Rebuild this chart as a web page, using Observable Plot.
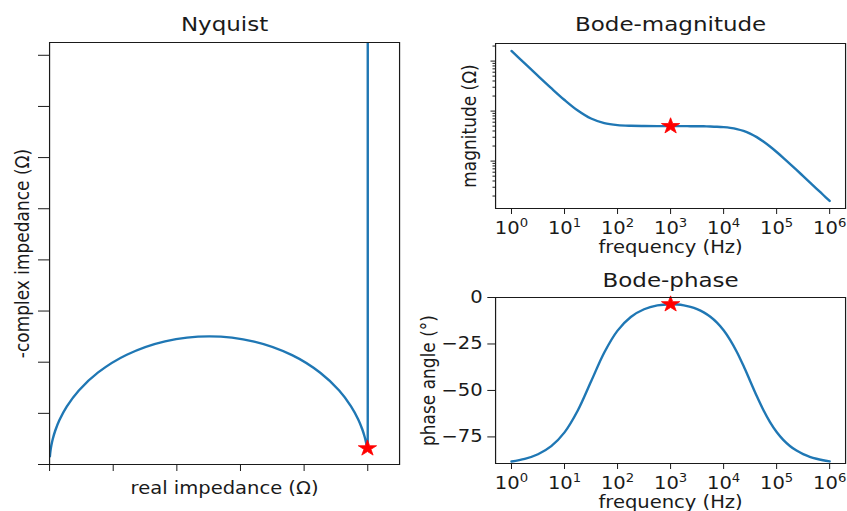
<!DOCTYPE html>
<html>
<head>
<meta charset="utf-8">
<script src="https://cdn.jsdelivr.net/npm/d3@7"></script>
<script src="https://cdn.jsdelivr.net/npm/@observablehq/plot@0.6"></script>
<style>
  html, body { margin: 0; padding: 0; background: #fff; }
  #figure { position: relative; width: 847px; height: 511px; overflow: hidden; background: #fff; }
  #figure svg { position: absolute; }
  #figure svg path, #figure svg line, #figure svg rect { vector-effect: non-scaling-stroke; }
</style>
</head>
<body>
<div id="figure"></div>
<script>
// Impedance spectrum from 1 Hz to 1 MHz (denser sampling above 1 kHz, where the arc is)
const frequency = [1, 1.778, 3.162, 5.623, 10, 17.78, 31.62, 56.23, 100, 177.8, 316.2, 562.3,
  1000, 1334, 1778, 2371, 3162, 4217, 5623, 7499, 10000, 13335, 17783, 23714, 31623, 42170,
  56234, 74989, 100000, 133352, 177828, 237137, 316228, 421697, 562341, 749894, 1000000];
const magnitude = [1592.3, 896.4, 505.8, 287.4, 166.8, 102.6, 71.0, 57.5, 52.52, 50.84, 50.30, 50.12,
  50.05, 50.02, 49.98, 49.92, 49.81, 49.62, 49.29, 48.72, 47.75, 46.16, 43.69, 40.14, 35.51, 30.15,
  24.65, 19.56, 15.18, 11.62, 8.82, 6.66, 5.01, 3.767, 2.83, 2.123, 1.593];
const phase = [-88.20, -86.80, -84.33, -79.98, -72.56, -60.82, -45.22, -29.59, -17.82, -10.46, -6.31, -4.25,
  -3.62, -3.77, -4.22, -5.03, -6.25, -7.98, -10.34, -13.50, -17.62, -22.88, -29.29, -36.76, -44.87, -53.00,
  -60.52, -67.03, -72.36, -76.59, -79.86, -82.36, -84.26, -85.69, -86.76, -87.57, -88.18];
const realZ = [50.0, 50.0, 50.0, 50.0, 50.0, 50.0, 50.0, 50.0, 50.0, 49.998, 49.995, 49.984,
  49.951, 49.912, 49.844, 49.724, 49.511, 49.138, 48.487, 47.371, 45.508, 42.535, 38.107, 32.154, 25.164, 18.148,
  12.133, 7.634, 4.600, 2.695, 1.552, 0.885, 0.502, 0.283, 0.160, 0.090, 0.051];
const negImagZ = [1591.6, 895.0, 503.3, 283.0, 159.2, 89.53, 50.38, 28.39, 16.07, 9.229, 5.530, 3.713,
  3.161, 3.285, 3.680, 4.376, 5.422, 6.887, 8.849, 11.372, 14.456, 17.939, 21.379, 24.022, 25.050, 24.080,
  21.462, 18.005, 14.467, 11.304, 8.681, 6.599, 4.987, 3.757, 2.824, 2.121, 1.592];
const markerFrequency = 1000;

// Axis ticks and tick labels
const freqTicks = [1, 10, 100, 1000, 10000, 100000, 1000000];
const freqTickBase = "10";
const freqTickExponents = ["0", "1", "2", "3", "4", "5", "6"];
const phaseTicks = [0, -25, -50, -75];
const phaseTickLabels = ["0", "−25", "−50", "−75"];
const magMajorTicks = [10, 100, 1000];
const magMinorTicks = [2, 3, 4, 5, 6, 7, 8, 9, 20, 30, 40, 50, 60, 70, 80, 90,
  200, 300, 400, 500, 600, 700, 800, 900, 2000];
const nyquistTicksX = [0, 10, 20, 30, 40, 50];
const nyquistTicksY = [0, 10, 20, 30, 40, 50, 60, 70, 80];

const spectrum = frequency.map((f, i) => ({f, mag: magnitude[i], phase: phase[i], re: realZ[i], im: negImagZ[i]}));
const marker = spectrum.filter(d => d.f === markerFrequency);

// The figure is laid out narrower and stretched horizontally to its final size
const S = 1.15;
const fig = document.getElementById("figure");
const lineColor = "#1f77b4";
const ink = "#1a1a1a";
const baseStyle = {fontFamily: "DejaVu Sans", fontSize: "17px", color: ink, background: "transparent"};

function mount(svg, left, top, width, height) {
  svg.setAttribute("viewBox", `0 0 ${width / S} ${height}`);
  svg.setAttribute("preserveAspectRatio", "none");
  svg.setAttribute("width", width);
  svg.setAttribute("height", height);
  Object.assign(svg.style, {
    left: left + "px", top: top + "px", width: width + "px", height: height + "px",
    maxWidth: "none", overflow: "visible", background: "transparent"
  });
  // power-of-ten tick labels: "10" with a raised exponent
  d3.select(svg).selectAll("text").each(function () {
    const t = this.textContent;
    const m = /^10\^(\d)$/.exec(t);
    if (!m) return;
    this.textContent = freqTickBase;
    d3.select(this).append("tspan").attr("dy", -7).attr("font-size", 11.5).text(m[1]);
  });
  fig.appendChild(svg);
}

const label = (t, o) => Plot.text([t], {text: d => d, fill: ink, ...o});
const freqFormat = d => freqTickBase + "^" + freqTickExponents[freqTicks.indexOf(d)];
const star = (x, y) => Plot.dot(marker, {x, y, symbol: "star", r: 5, fill: "red", stroke: "red", strokeWidth: 0.8});

// Nyquist
mount(Plot.plot({
  width: 440 / S, height: 511,
  marginLeft: 49 / S, marginRight: 41 / S, marginTop: 42, marginBottom: 47,
  style: baseStyle,
  x: {domain: [0, 55]},
  y: {domain: [0, 82.5]},
  marks: [
    Plot.line(spectrum, {x: "re", y: "im", stroke: lineColor, strokeWidth: 2.4, curve: "catmull-rom", clip: true}),
    star("re", "im"),
    Plot.frame({stroke: ink, strokeWidth: 1.2}),
    Plot.axisX({ticks: nyquistTicksX, tickSize: 7, tickFormat: () => "", label: null}),
    Plot.axisY({ticks: nyquistTicksY, tickSize: 11 / S, tickFormat: () => "", label: null}),
    label("Nyquist", {frameAnchor: "top", dy: -12, lineAnchor: "bottom", fontSize: 20}),
    label("real impedance (Ω)", {frameAnchor: "bottom", dy: 29, lineAnchor: "bottom"}),
    label("-complex impedance (Ω)", {frameAnchor: "left", dx: (22.5 - 49) / S, rotate: -90, textAnchor: "middle", lineAnchor: "middle"})
  ]
}), 0, 0, 440, 511);

// Bode magnitude
mount(Plot.plot({
  width: 407 / S, height: 255,
  marginLeft: 55 / S, marginRight: 2 / S, marginTop: 43, marginBottom: 47,
  style: baseStyle,
  x: {type: "log", domain: [0.501, 1995000]},
  y: {type: "log", domain: [1.127, 2249]},
  marks: [
    Plot.line(spectrum, {x: "f", y: "mag", stroke: lineColor, strokeWidth: 2.4, curve: "catmull-rom"}),
    star("f", "mag"),
    Plot.frame({stroke: ink, strokeWidth: 1.2}),
    Plot.axisX({ticks: freqTicks, tickFormat: freqFormat, tickSize: 6, tickPadding: 7.5, label: null}),
    Plot.axisY({ticks: magMajorTicks, tickSize: 4.5 / S, tickFormat: () => "", label: null}),
    Plot.axisY({ticks: magMinorTicks, tickSize: 2.5 / S, tickFormat: () => "", label: null}),
    label("Bode-magnitude", {frameAnchor: "top", dy: -13, lineAnchor: "bottom", fontSize: 20}),
    label("frequency (Hz)", {frameAnchor: "bottom", dy: 44.5, lineAnchor: "bottom"}),
    label("magnitude (Ω)", {frameAnchor: "left", dx: (469 - 495) / S, rotate: -90, textAnchor: "middle", lineAnchor: "middle"})
  ]
}), 440, 0, 407, 255);

// Bode phase
mount(Plot.plot({
  width: 427 / S, height: 256,
  marginLeft: 75 / S, marginRight: 2 / S, marginTop: 42, marginBottom: 48,
  style: baseStyle,
  x: {type: "log", domain: [0.501, 1995000]},
  y: {domain: [-89.3, 0]},
  marks: [
    Plot.line(spectrum, {x: "f", y: "phase", stroke: lineColor, strokeWidth: 2.4, curve: "catmull-rom"}),
    star("f", "phase"),
    Plot.frame({stroke: ink, strokeWidth: 1.2}),
    Plot.axisX({ticks: freqTicks, tickFormat: freqFormat, tickSize: 6, tickPadding: 7.5, label: null}),
    Plot.axisY({ticks: phaseTicks, tickFormat: d => phaseTickLabels[phaseTicks.indexOf(d)], tickSize: 7.7 / S, tickPadding: 5.3 / S, label: null}),
    label("Bode-phase", {frameAnchor: "top", dy: -11, lineAnchor: "bottom", fontSize: 20}),
    label("frequency (Hz)", {frameAnchor: "bottom", dy: 44.5, lineAnchor: "bottom"}),
    label("phase angle (°)", {frameAnchor: "left", dx: (428.5 - 495) / S, rotate: -90, textAnchor: "middle", lineAnchor: "middle"})
  ]
}), 420, 255, 427, 256);
</script>
</body>
</html>
